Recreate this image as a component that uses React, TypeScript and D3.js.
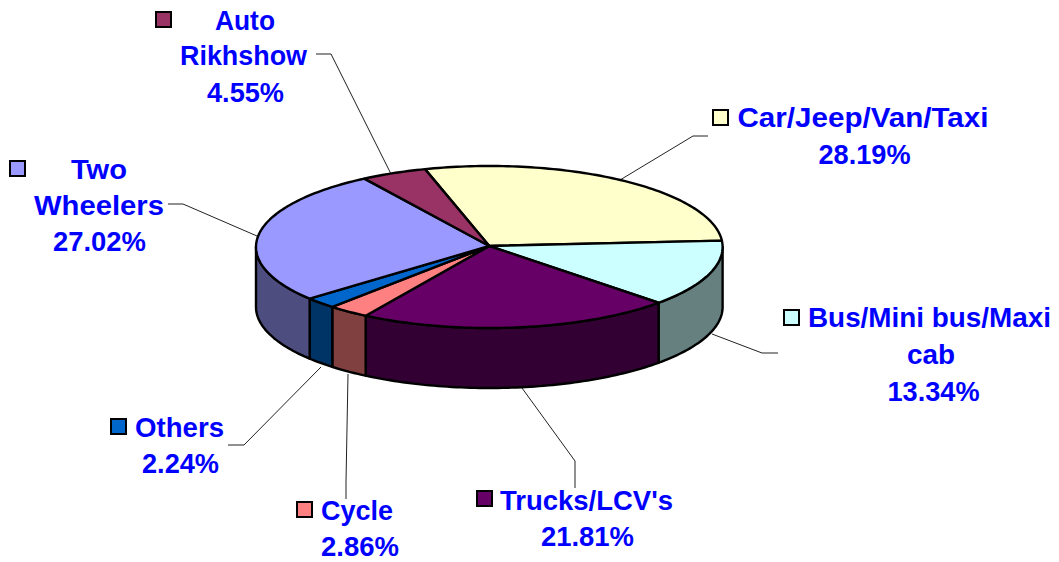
import React from "react";
import * as d3 from "d3";

const categories = ["Car/Jeep/Van/Taxi", "Bus/Mini bus/Maxi cab", "Trucks/LCV's", "Cycle", "Others", "Two Wheelers", "Auto Rikhshow"];
const shares = [28.19, 13.34, 21.81, 2.86, 2.24, 27.02, 4.55];
const topColors = ["#FFFFCC", "#CCFFFF", "#660066", "#FF8080", "#0066CC", "#9999FF", "#993366"];
const sideColors = ["#808066", "#668080", "#330033", "#804040", "#003366", "#4D4D80", "#4D1A33"];

const W = 1059, H = 562;
const cx = 489.3, cy = 247, rx = 233.3, ry = 81, depth = 60;
const hubY = 246;
const startDeg = -16;

// label layout: [text, start x, baseline y, width]
const labelLines: [string, number, number, number][] = [
  ["Auto", 215, 30, 60],
  ["Rikhshow", 180, 65, 127],
  ["4.55%", 207, 102, 77],
  ["Two", 71, 179, 56],
  ["Wheelers", 34, 215, 130],
  ["27.02%", 53, 251, 93],
  ["Car/Jeep/Van/Taxi", 737.5, 127, 251],
  ["28.19%", 818.5, 164, 92],
  ["Bus/Mini bus/Maxi", 808, 327, 243],
  ["cab", 907, 364, 48],
  ["13.34%", 887.5, 401, 92],
  ["Trucks/LCV's", 500, 510, 173],
  ["21.81%", 541, 546, 93],
  ["Cycle", 321, 520, 72],
  ["2.86%", 321, 556, 78],
  ["Others", 135, 437, 89],
  ["2.24%", 142, 473, 77],
];
const swatchPos: [number, number][] = [[713, 110], [784, 310], [477, 491], [297, 502], [111, 419], [10, 161], [156, 12]];
const leaders: [number, number][][] = [
  [[708, 136], [693, 136], [620, 180]],
  [[778, 353], [762, 353], [712, 334]],
  [[575, 488], [575, 461], [522, 388]],
  [[346, 499], [346, 482], [348, 374]],
  [[228, 445], [244, 445], [321, 367]],
  [[168, 204], [183, 204], [257, 236]],
  [[316, 54], [331, 54], [391, 174]],
];

const pt = (a: number, dy = 0): [number, number] => [cx + rx * Math.sin(a), cy - ry * Math.cos(a) + dy];

const arcLine = (p: ReturnType<typeof d3.path>, a0: number, a1: number, dy: number) => {
  const n = Math.max(2, Math.ceil(Math.abs(a1 - a0) / 0.02));
  d3.range(n + 1).forEach((i) => {
    const [x, y] = pt(a0 + ((a1 - a0) * i) / n, dy);
    if (i === 0 && p.toString() === "") p.moveTo(x, y);
    else p.lineTo(x, y);
  });
};

export default function App() {
  const start = (startDeg * Math.PI) / 180;
  const slices = d3
    .pie<number>()
    .sort(null)
    .startAngle(start)
    .endAngle(start + 2 * Math.PI)(shares);

  const sides = slices
    .map((s, i) => {
      const a0 = Math.max(s.startAngle, Math.PI / 2);
      const a1 = Math.min(s.endAngle, (3 * Math.PI) / 2);
      if (a1 <= a0) return null;
      const p = d3.path();
      arcLine(p, a0, a1, 0);
      arcLine(p, a1, a0, depth);
      p.closePath();
      return <path key={i} d={p.toString()} fill={sideColors[i]} stroke="#000" strokeWidth={2.4} strokeLinejoin="round" />;
    })
    .filter(Boolean);

  const tops = slices.map((s, i) => {
    const p = d3.path();
    p.moveTo(cx, hubY);
    arcLine(p, s.startAngle, s.endAngle, 0);
    p.closePath();
    return <path key={i} d={p.toString()} fill={topColors[i]} stroke="#000" strokeWidth={2.4} strokeLinejoin="round" />;
  });

  const leaderLine = d3.line();

  return (
    <svg
      width={W}
      height={H}
      viewBox={`0 0 ${W} ${H}`}
      style={{ position: "absolute", left: 0, top: 0, background: "#fff" }}
    >
      {leaders.map((l, i) => (
        <path key={categories[i]} d={leaderLine(l) ?? ""} fill="none" stroke="#222" strokeWidth={1} />
      ))}
      {sides}
      {tops}
      {swatchPos.map(([x, y], i) => (
        <rect key={i} x={x} y={y} width={15} height={15} fill={topColors[i]} stroke="#000" strokeWidth={2} />
      ))}
      {labelLines.map(([t, x, y, w]) => (
        <text
          key={t}
          x={x}
          y={y}
          textLength={w}
          lengthAdjust="spacingAndGlyphs"
          fontFamily="'Liberation Sans', Arial, sans-serif"
          fontWeight="bold"
          fontSize={27}
          fill="#0000FF"
        >
          {t}
        </text>
      ))}
    </svg>
  );
}
